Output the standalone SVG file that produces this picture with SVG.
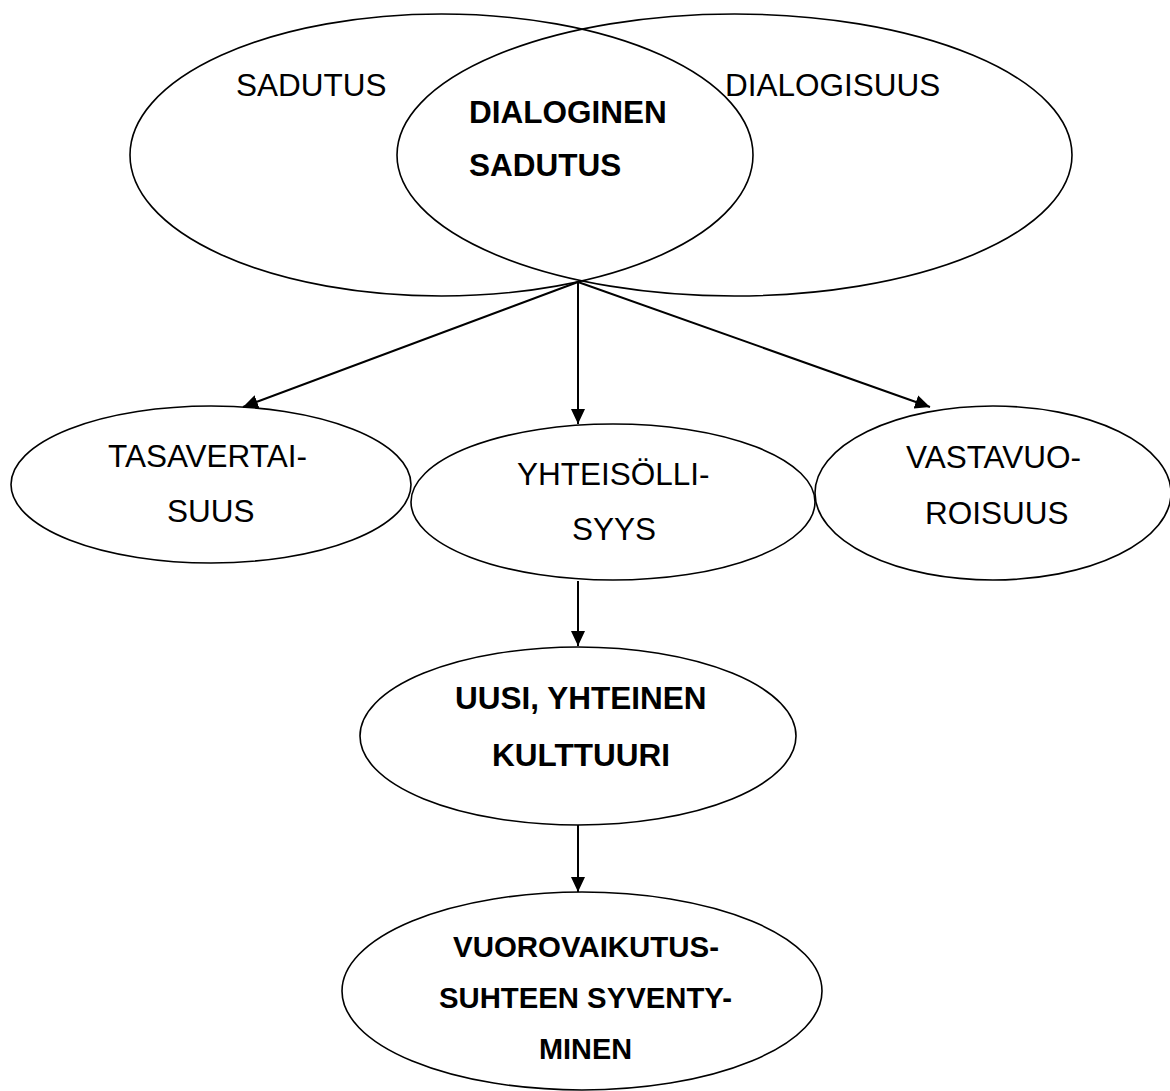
<svg xmlns="http://www.w3.org/2000/svg" width="1170" height="1091" viewBox="0 0 1170 1091">
  <style>
    .shape { fill: none; stroke: #000; stroke-width: 1.6; }
    .edge { fill: none; stroke: #000; stroke-width: 2; }
    .reg { font-family: "Liberation Sans", Arial, sans-serif; font-size: 31.5px; fill: #000; }
    .bold { font-family: "Liberation Sans", Arial, sans-serif; font-size: 31.5px; font-weight: bold; fill: #000; }
    .small { font-size: 30px; }
  </style>
  <defs>
    <marker id="arrow" viewBox="0 0 15 14" markerUnits="userSpaceOnUse" markerWidth="15" markerHeight="14" refX="15" refY="7" orient="auto">
      <path d="M0,0 L15,7 L0,14 z" fill="#000"/>
    </marker>
  </defs>
  <rect width="1170" height="1091" fill="#fff"/>

  <!-- Venn pair: storytelling and dialogue, overlap = dialogic storytelling -->
  <g id="sadutus">
    <ellipse class="shape" cx="441.5" cy="155" rx="311.5" ry="141"/>
    <text class="reg" x="236" y="95.5">SADUTUS</text>
  </g>
  <g id="dialogisuus">
    <ellipse class="shape" cx="734.5" cy="155" rx="337.5" ry="141"/>
    <text class="reg" x="725" y="95.5">DIALOGISUUS</text>
  </g>
  <g id="dialoginen-sadutus">
    <text class="bold" x="469" y="122.5">DIALOGINEN</text>
    <text class="bold" x="469" y="176">SADUTUS</text>
  </g>

  <!-- second row -->
  <g id="tasavertaisuus">
    <ellipse class="shape" cx="211" cy="484.5" rx="200" ry="78.5"/>
    <text class="reg" x="108" y="466.5">TASAVERTAI-</text>
    <text class="reg" x="167" y="521.5">SUUS</text>
  </g>
  <g id="yhteisollisyys">
    <ellipse class="shape" cx="613" cy="502" rx="202" ry="78"/>
    <text class="reg" x="517" y="485">YHTEISÖLLI-</text>
    <text class="reg" x="572" y="539.5">SYYS</text>
  </g>
  <g id="vastavuoroisuus">
    <ellipse class="shape" cx="993" cy="493" rx="178" ry="87"/>
    <text class="reg" x="906" y="468">VASTAVUO-</text>
    <text class="reg" x="925" y="524">ROISUUS</text>
  </g>

  <!-- lower chain -->
  <g id="yhteinen-kulttuuri">
    <ellipse class="shape" cx="578" cy="736" rx="218" ry="89"/>
    <text class="bold" x="455" y="708.5">UUSI, YHTEINEN</text>
    <text class="bold" x="492" y="766">KULTTUURI</text>
  </g>
  <g id="vuorovaikutussuhde">
    <ellipse class="shape" cx="582" cy="991" rx="240" ry="99"/>
    <text class="bold small" x="453" y="957" textLength="266" lengthAdjust="spacingAndGlyphs">VUOROVAIKUTUS-</text>
    <text class="bold small" x="439" y="1007.5" textLength="293" lengthAdjust="spacingAndGlyphs">SUHTEEN SYVENTY-</text>
    <text class="bold small" x="539" y="1058.5" textLength="93" lengthAdjust="spacingAndGlyphs">MINEN</text>
  </g>

  <!-- connectors -->
  <g id="connectors">
    <line class="edge" x1="578" y1="282" x2="243" y2="407" marker-end="url(#arrow)"/>
    <line class="edge" x1="578" y1="282" x2="578" y2="424" marker-end="url(#arrow)"/>
    <line class="edge" x1="578" y1="282" x2="930" y2="407" marker-end="url(#arrow)"/>
    <line class="edge" x1="578" y1="581" x2="578" y2="646" marker-end="url(#arrow)"/>
    <line class="edge" x1="578" y1="825" x2="578" y2="892" marker-end="url(#arrow)"/>
  </g>
</svg>
